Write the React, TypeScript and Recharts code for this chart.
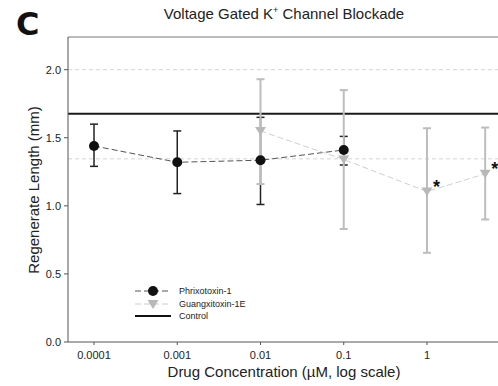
import React from 'react';
import { ComposedChart, Scatter, XAxis, YAxis, ErrorBar, ReferenceLine } from 'recharts';

const xTicks = [0.0001, 0.001, 0.01, 0.1, 1];
const xTickLabels = ['0.0001', '0.001', '0.01', '0.1', '1'];
const yTicks = [0, 0.5, 1.0, 1.5, 2.0];
const yTickLabels = ['0.0', '0.5', '1.0', '1.5', '2.0'];

const phrixConc = [0.0001, 0.001, 0.01, 0.1];
const phrixMean = [1.44, 1.32, 1.335, 1.41];
const phrixLow = [1.29, 1.09, 1.01, 1.3];
const phrixHigh = [1.6, 1.55, 1.65, 1.51];

const guangConc = [0.01, 0.1, 1, 5];
const guangMean = [1.55, 1.34, 1.105, 1.235];
const guangLow = [1.16, 0.83, 0.655, 0.9];
const guangHigh = [1.93, 1.85, 1.57, 1.575];
const guangSig = [false, false, true, true];

const controlMean = 1.676;
const controlBounds = [1.345, 2.0];

const seriesNames = ['Phrixotoxin-1', 'Guangxitoxin-1E', 'Control'];

const phrixData = phrixConc.map((x, i) => ({
  x,
  y: phrixMean[i],
  err: [phrixMean[i] - phrixLow[i], phrixHigh[i] - phrixMean[i]],
}));
const guangData = guangConc.map((x, i) => ({
  x,
  y: guangMean[i],
  err: [guangMean[i] - guangLow[i], guangHigh[i] - guangMean[i]],
  sig: guangSig[i],
}));

const FONT = '"Liberation Sans", Arial, sans-serif';

const CircleShape = (p: any) => <circle cx={p.cx} cy={p.cy} r={5} fill="#111" />;
const TriShape = (p: any) => {
  const { cx, cy, payload } = p;
  return (
    <g>
      <path d={`M${cx - 5.5},${cy - 4} L${cx + 5.5},${cy - 4} L${cx},${cy + 4.5} Z`} fill="#b8b8b8" />
      {payload && payload.sig ? (
        <text x={cx + 9.5} y={cy + 1} textAnchor="middle" fontSize={18} fontWeight="bold" fill="#111" fontFamily={FONT}>
          *
        </text>
      ) : null}
    </g>
  );
};

const Legend = () => (
  <div style={{ position: 'absolute', left: 135, top: 285, fontFamily: FONT, fontSize: 9, color: '#222', lineHeight: '12.5px' }}>
    <div style={{ display: 'flex', alignItems: 'center' }}>
      <svg width={36} height={12}>
        <line x1={0} y1={6} x2={36} y2={6} stroke="#555" strokeDasharray="6 3" strokeWidth={1} />
        <circle cx={18} cy={6} r={5} fill="#111" />
      </svg>
      <span style={{ marginLeft: 8 }}>{seriesNames[0]}</span>
    </div>
    <div style={{ display: 'flex', alignItems: 'center' }}>
      <svg width={36} height={12}>
        <line x1={0} y1={6} x2={36} y2={6} stroke="#ccc" strokeDasharray="6 3" strokeWidth={1} />
        <path d="M12.5,2 L23.5,2 L18,11 Z" fill="#b8b8b8" />
      </svg>
      <span style={{ marginLeft: 8 }}>{seriesNames[1]}</span>
    </div>
    <div style={{ display: 'flex', alignItems: 'center' }}>
      <svg width={36} height={12}>
        <line x1={0} y1={6} x2={36} y2={6} stroke="#111" strokeWidth={2} />
      </svg>
      <span style={{ marginLeft: 8 }}>{seriesNames[2]}</span>
    </div>
  </div>
);

export default function App() {
  return (
    <div style={{ position: 'relative', width: 498, height: 386, background: '#fff', overflow: 'hidden' }}>
      <style>{`body{margin:0}.recharts-surface{overflow:visible}`}</style>
      <div style={{ position: 'absolute', left: 16, top: 5, fontFamily: '"DejaVu Sans", sans-serif', fontWeight: 'bold', fontSize: 32, color: '#111' }}>C</div>
      <div style={{ position: 'absolute', left: 84, width: 400, top: 5, textAlign: 'center', whiteSpace: 'nowrap', fontFamily: FONT, fontSize: 15, color: '#222' }}>
        Voltage Gated K<sup style={{ fontSize: 9 }}>+</sup> Channel Blockade
      </div>
      <div style={{ position: 'absolute', left: 84, width: 400, top: 363, textAlign: 'center', whiteSpace: 'nowrap', fontFamily: FONT, fontSize: 15, color: '#222' }}>
        Drug Concentration (µM, log scale)
      </div>
      <div style={{ position: 'absolute', left: 33, top: 190, width: 0, height: 0 }}>
        <div style={{ position: 'absolute', transform: 'translate(-50%, -50%) rotate(-90deg)', whiteSpace: 'nowrap', fontFamily: FONT, fontSize: 15, color: '#222' }}>
          Regenerate Length (mm)
        </div>
      </div>
      <ComposedChart width={498} height={386} margin={{ top: 37, right: 0, bottom: 0, left: 28 }}>
        <XAxis
          type="number"
          dataKey="x"
          scale="log"
          domain={[0.0000487, 7.13]}
          ticks={xTicks}
          tickFormatter={(v: number) => xTickLabels[xTicks.indexOf(v)] ?? String(v)}
          tick={{ fontSize: 11, fill: '#222', fontFamily: FONT }}
          stroke="#555"
          tickSize={3}
          tickMargin={6}
          height={44}
        />
        <YAxis
          type="number"
          dataKey="y"
          domain={[0, 2.24]}
          ticks={yTicks}
          tickFormatter={(v: number) => yTickLabels[yTicks.indexOf(v)] ?? String(v)}
          tick={{ fontSize: 11, fill: '#222', fontFamily: FONT }}
          stroke="#555"
          tickSize={4}
          tickMargin={3}
          width={40}
        />
        <ReferenceLine y={2.24} stroke="#777" strokeWidth={1} />
        <ReferenceLine y={controlBounds[1]} stroke="#d4d4d4" strokeDasharray="4 3" />
        <ReferenceLine y={controlBounds[0]} stroke="#d4d4d4" strokeDasharray="4 3" />
        <ReferenceLine y={controlMean} stroke="#1a1a1a" strokeWidth={2} />
        <Scatter
          name={seriesNames[0]}
          data={phrixData}
          dataKey="y"
          line={{ stroke: '#555', strokeDasharray: '6 3', strokeWidth: 1 }}
          shape={CircleShape}
          isAnimationActive={false}
        >
          <ErrorBar dataKey="err" direction="y" stroke="#222" strokeWidth={1.5} width={4} />
        </Scatter>
        <Scatter
          name={seriesNames[1]}
          data={guangData}
          dataKey="y"
          line={{ stroke: '#cfcfcf', strokeDasharray: '6 3', strokeWidth: 1 }}
          shape={TriShape}
          isAnimationActive={false}
        >
          <ErrorBar dataKey="err" direction="y" stroke="#bdbdbd" strokeWidth={2} width={4} />
        </Scatter>
      </ComposedChart>
      <Legend />
    </div>
  );
}
